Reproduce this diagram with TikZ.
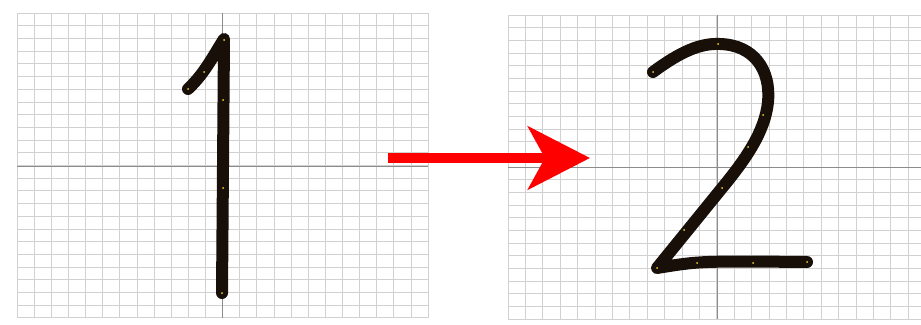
\documentclass[tikz,border=0pt]{standalone}
\usepackage{tikz}
\usetikzlibrary{arrows.meta}

\begin{document}
\begin{tikzpicture}[x=1pt,y=-1pt,
  gridline/.style={black!18, line width=0.7pt},
  axisline/.style={black!45, line width=1pt},
  digit/.style={line width=12pt, draw=black!88!brown, line cap=round, line join=round},
  knot/.style={fill=yellow!70!brown},
  bigarrow/.style={draw=red, fill=red, line width=10pt,
    -{Stealth[length=62pt,width=63pt,inset=17pt]}}]
\useasboundingbox (0,0) rectangle (921,324);

% grid, left panel
\foreach \i in {0,...,24} \draw[gridline] (17+\i*17.125,13) -- (17+\i*17.125,318);
\foreach \j in {0,...,24} \draw[gridline] (17,13+\j*12.7) -- (428,13+\j*12.7);
\draw[axisline] (17,166) -- (428,166);
\draw[axisline] (222,13) -- (222,318);

% grid, right panel
\foreach \i in {0,...,23} \draw[gridline] (508+\i*17.4,15) -- (508+\i*17.4,319);
\foreach \j in {0,...,24} \draw[gridline] (508,15+\j*12.67) -- (921,15+\j*12.67);
\draw[axisline] (508,167) -- (921,167);
\draw[axisline] (717,15) -- (717,319);

% the one
\draw[digit] (188,89) .. controls (204,74) and (212,58) .. (224,39) -- (222,293);
\foreach \p in {(224,40),(204,72),(188,89),(223,100),(223,188),(222,293)}
  \fill[knot] \p circle (1pt);

% the two
\draw[digit] (653,72) .. controls (680,52) and (700,43) .. (720,44)
  .. controls (754,45) and (771,70) .. (768,102)
  .. controls (765,132) and (745,160) .. (722,188) -- (657,268)
  .. controls (700,261) .. (807,262);
\foreach \p in {(653,72),(718,44),(763,115),(748,147),(722,188),(684,230),(657,268),(697,263),(753,263),(807,262)}
  \fill[knot] \p circle (1pt);

% arrow
\coordinate (tail) at (388,158);
\coordinate (tip) at (590,158);
\draw[bigarrow] (tail) -- (tip);
\end{tikzpicture}
\end{document}
